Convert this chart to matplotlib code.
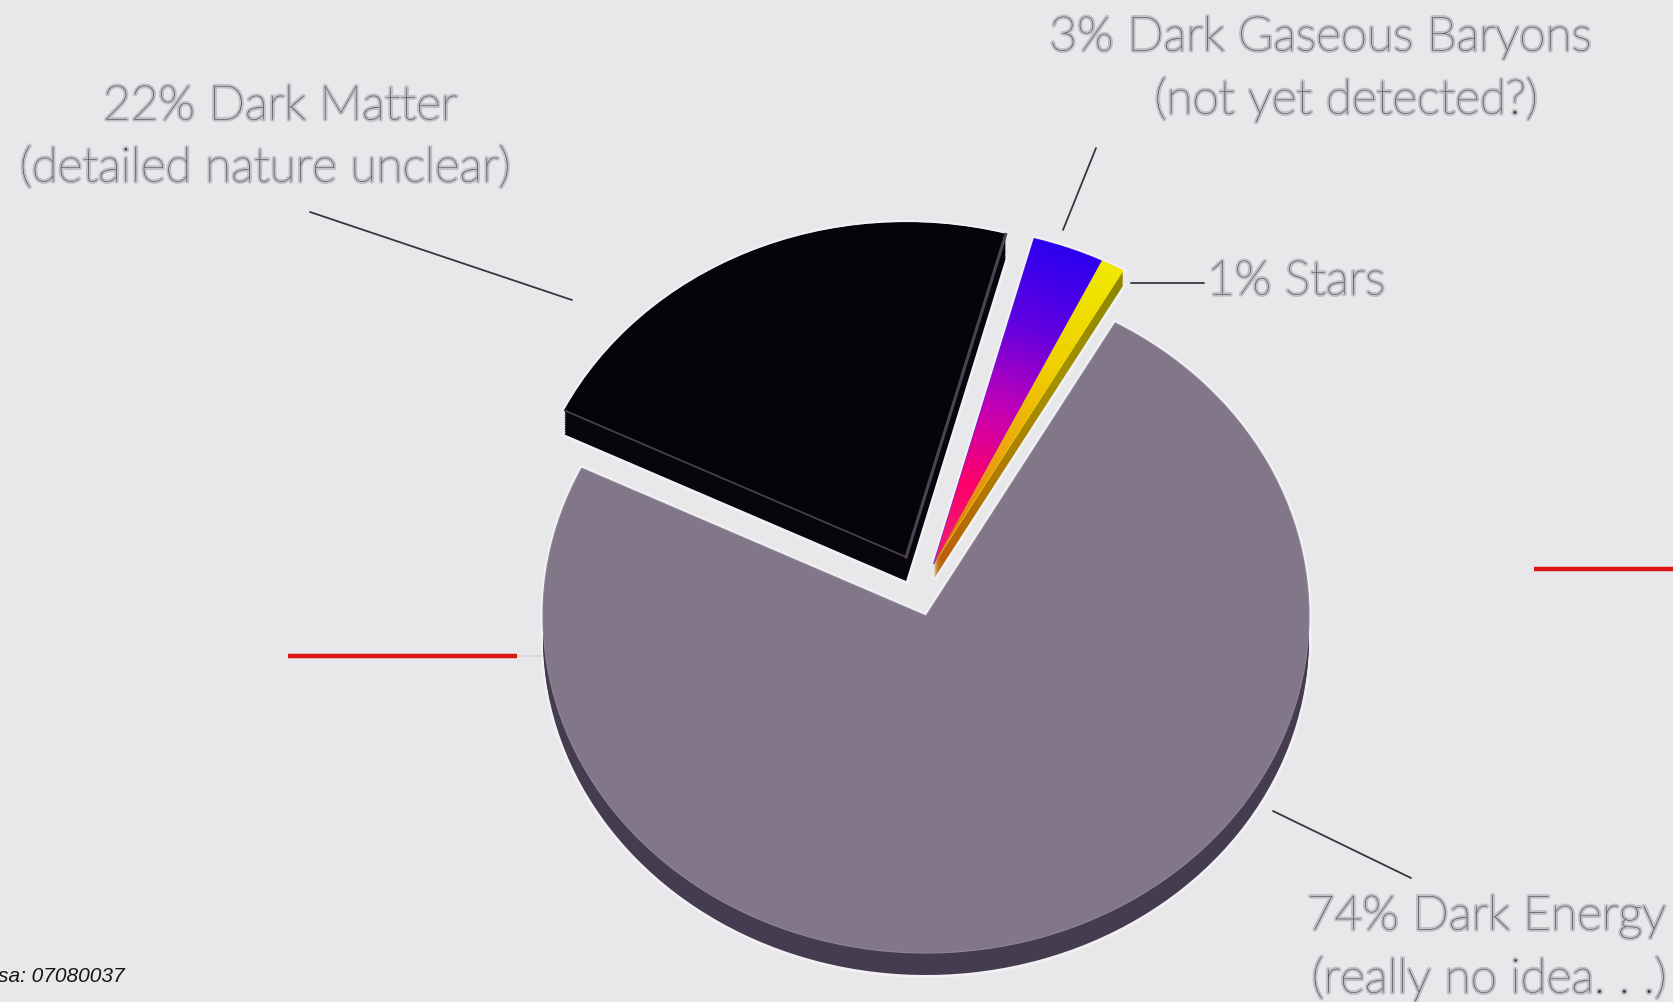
import matplotlib.pyplot as plt
import matplotlib.patheffects as pe
import numpy as np
from matplotlib.colors import LinearSegmentedColormap

# parts of the universe, percent (counter clockwise from the left cut)
labels = ['Dark Energy', 'Stars', 'Dark Gaseous Baryons', 'Dark Matter']
values = [74, 1, 3, 22]
top_colors = ['#827788', '#efe600', '#3a00ee', '#060408']
side_colors = ['#453d4f', '#a39200', '#3a00ee', '#08060c']

W, H = 1674, 1002
BG = '#e8e7ea'
CX, CY, RX, RY = 926, 616, 383, 337
START = 154.0

# where each slice was pulled out to, in pie units
offsets = [(0, 0), (0.02, 0.155), (0.02, 0.155), (-0.052, 0.175)]
radii = [1, 1.0, 1.0, 0.992]
depths = [22 / RY, 15 / RY, 15 / RY, 24 / RY]
STEPS = 10

fig = plt.figure(figsize=(W / 100, H / 100), dpi=100, facecolor=BG)
ax = fig.add_axes([0, 0, 1, 1])


def layer(frac, colors, zorder, edge=None, lw=0):
    wedges, _ = ax.pie(values, colors=colors, startangle=START, counterclock=True,
                       wedgeprops=dict(linewidth=lw, edgecolor=edge))
    for w, (ox, oy), r, d in zip(wedges, offsets, radii, depths):
        w.set_center((ox, oy - frac * d))
        w.set_radius(r)
        w.set_zorder(zorder)
    return wedges


def gradient(wedge, stops, zorder, n=200):
    # radial fade from the tip of the slice, clipped to the slice
    ox, oy = wedge.center
    x = np.linspace(-0.6, 0.8, n)
    y = np.linspace(-0.2, 1.4, n)
    xx, yy = np.meshgrid(x, y)
    rr = np.hypot(xx - ox, yy - oy) / wedge.r
    cmap = LinearSegmentedColormap.from_list('fade', stops)
    im = ax.imshow(rr, extent=(x[0], x[-1], y[0], y[-1]), origin='lower', cmap=cmap,
                   vmin=0, vmax=1, aspect='auto', zorder=zorder, interpolation='bilinear')
    im.set_clip_path(wedge)


# light halo round everything
layer(1, [BG] * 4, 1, edge='#f1f0f4', lw=4)
layer(0, [BG] * 4, 1, edge='#f1f0f4', lw=4)

# side faces: the slice swept down by its depth
for i in range(STEPS + 1):
    sides = layer(i / STEPS, side_colors, 2)
    sides[2].set_visible(False)
    gradient(sides[1], ['#c05a10', '#b07a00', '#a39200', '#8f8600'], 2.5, n=80)

tops = layer(0, top_colors, 3, edge='#8f8795', lw=0.8)
tops[1].set_edgecolor('#efe600')
tops[2].set_edgecolor('#5a30e0')
tops[3].set_edgecolor('#060408')

gradient(tops[1], ['#d9701c', '#eda010', '#f0d000', '#efe900'], 3.5)
gradient(tops[2], ['#f02070', '#ff0068', '#c000b8', '#6000e0', '#2c00f0'], 3.5)

# grey highlight on the straight edges of the dark matter slice
dm = tops[3]
ox, oy = dm.center
for theta, col, lw in [(dm.theta1, '#4a4452', 2.2), (dm.theta2, '#4a4452', 1.2)]:
    ax.plot([ox, ox + dm.r * np.cos(np.radians(theta))],
            [oy, oy + dm.r * np.sin(np.radians(theta))], color=col, lw=lw, zorder=4)

ax.set_aspect('auto')
ax.set_xlim(-CX / RX, (W - CX) / RX)
ax.set_ylim((CY - H) / RY, CY / RY)
ax.axis('off')

# overlay in pixel coordinates for the annotations
ov = fig.add_axes([0, 0, 1, 1], facecolor='none')
ov.set_xlim(0, W)
ov.set_ylim(H, 0)
ov.axis('off')

leader_x = [(310, 572), (1096, 1063), (1131, 1204), (1273, 1411)]
leader_y = [(212, 300), (148, 230), (283, 283), (811, 878)]
for lx, ly in zip(leader_x, leader_y):
    ov.plot(lx, ly, color='#38363c', lw=1.3, solid_capstyle='round')

# red pointer lines
ov.plot((288, 517), (656, 656), color='#df1414', lw=3.2, solid_capstyle='butt')
ov.plot((1534, 1674), (569, 569), color='#df1414', lw=3.2, solid_capstyle='butt')
ov.plot((517, 930), (656, 656), color='#9a2030', lw=1.2, alpha=0.1)

text_fx = [pe.withStroke(linewidth=3, foreground='#b8b7bd', alpha=0.8)]
captions = ['22% Dark Matter', '(detailed nature unclear)',
            '3% Dark Gaseous Baryons', '(not yet detected?)',
            '1% Stars', '74% Dark Energy', '(really no idea. . .)']
cap_x = [280, 265, 1320, 1346, 1296, 1486, 1489]
cap_y = [107, 169, 38, 100, 282, 917, 979]
for s, x, y in zip(captions, cap_x, cap_y):
    ov.text(x, y, s, family='Lato', weight='light', fontsize=34.5, color='#3e3e45',
            ha='center', va='center', path_effects=text_fx)

ov.text(125, 977, 'sa: 07080037', family='Liberation Sans', style='italic', fontsize=15,
        color='#151515', ha='right', va='center')

fig.savefig('out.png', dpi=100, facecolor=BG)
